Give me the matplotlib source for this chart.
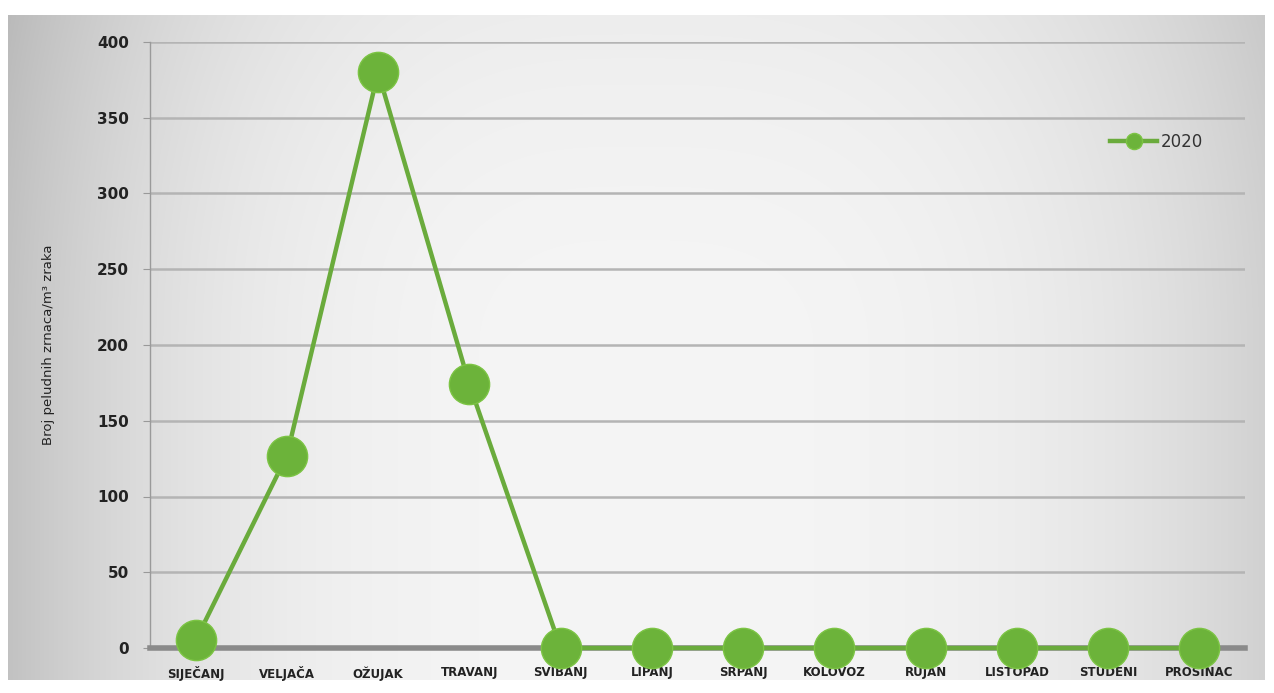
import numpy as np
import matplotlib
matplotlib.use("Agg")
import matplotlib.pyplot as plt

# data
months = ["SIJEČANJ", "VELJAČA", "OŽUJAK", "TRAVANJ", "SVIBANJ", "LIPANJ",
          "SRPANJ", "KOLOVOZ", "RUJAN", "LISTOPAD", "STUDENI", "PROSINAC"]
values_2020 = [5, 127, 380, 174, 0, 0, 0, 0, 0, 0, 0, 0]
yticks = [0, 50, 100, 150, 200, 250, 300, 350, 400]

fig = plt.figure(figsize=(12.74, 6.93), dpi=100)
fig.patch.set_facecolor("white")

# gray gradient card behind the chart, darker at the sides
bg = fig.add_axes([8/1274, 1-680/693, 1257/1274, 665/693])
xx = np.linspace(-1, 1, 1257)
yy = np.linspace(-1, 1, 665)
X, Y = np.meshgrid(xx, yy)
side = np.where(X < 0, 0.20, 0.14)
shade = 0.96 - side*np.abs(X)**3 - 0.03*np.clip(-Y, 0, 1)**2
rgb = np.dstack([shade, shade, shade])
bg.imshow(rgb, aspect="auto", extent=[0, 1, 0, 1], interpolation="nearest")
bg.set_axis_off()

ax = fig.add_axes([150/1274, 1-648/693, 1095/1274, 606/693])
ax.patch.set_alpha(0)
x = np.arange(len(months))
ax.plot(x, values_2020, color="#6aab3c", lw=3.2, marker="o", ms=29,
        mfc="#6cb33a", mec="#7cc444", mew=1, label="2020", zorder=3,
        clip_on=False)

ax.set_xlim(-0.5, len(months)-0.5)
ax.set_ylim(0, 400)
ax.set_yticks(yticks)
ax.set_yticklabels([str(v) for v in yticks], fontsize=11, fontweight="bold",
                   color="#222222")
ax.set_xticks(x)
ax.set_xticklabels(months, fontsize=8.5, fontweight="bold", color="#222222")
ax.tick_params(axis="x", length=0, pad=13)
ax.tick_params(axis="y", length=5, color="#999999", pad=10)
ax.grid(axis="y", color="#b4b4b4", lw=1.8)
ax.set_axisbelow(True)
for s in ["top", "right"]:
    ax.spines[s].set_visible(False)
ax.spines["left"].set_color("#9a9a9a")
ax.spines["left"].set_linewidth(1)
ax.spines["bottom"].set_color("#8a8a8a")
ax.spines["bottom"].set_linewidth(4)

ax.set_ylabel("Broj peludnih zrnaca/m³ zraka", fontsize=9.5, color="#222222",
              labelpad=30)

leg = ax.legend(loc="upper right", bbox_to_anchor=(0.975, 0.875), frameon=False,
                fontsize=12, handlelength=2.8, markerscale=0.4,
                handletextpad=0.2)
for t in leg.get_texts():
    t.set_color("#333333")

fig.savefig("out.png", dpi=100)
